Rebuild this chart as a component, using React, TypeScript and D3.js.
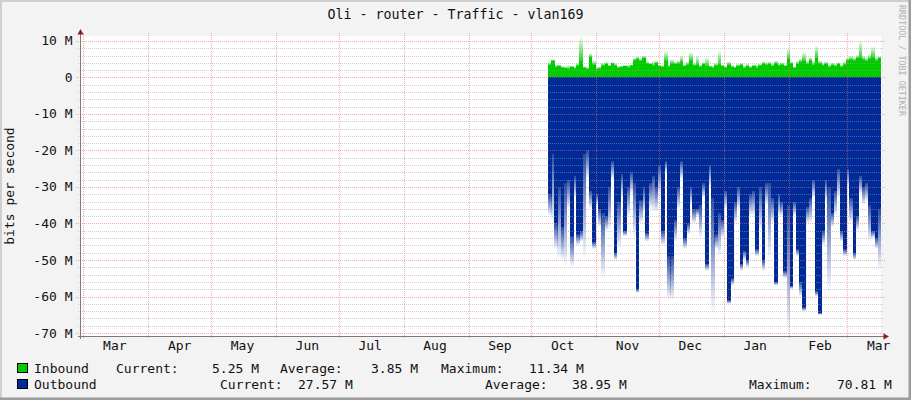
import React from 'react';
import * as d3 from 'd3';

const W = 911;
const H = 400;

const titleText = 'Oli - router - Traffic - vlan169';
const yAxisTitle = 'bits per second';
const watermark = 'RRDTOOL / TOBI OETIKER';
const monthLabels = ['Mar', 'Apr', 'May', 'Jun', 'Jul', 'Aug', 'Sep', 'Oct', 'Nov', 'Dec', 'Jan', 'Feb', 'Mar'];
const yMajorTicks = [10, 0, -10, -20, -30, -40, -50, -60, -70];
const yTickLabels = ['10 M', '0', '-10 M', '-20 M', '-30 M', '-40 M', '-50 M', '-60 M', '-70 M'];

// Inbound (M bits/s), one value per 36h step starting 9 Oct
const inAvg = [
  3.4, 4.5, 2.8, 3.0, 2.6, 2.5, 2.3, 2.8, 2.4, 3.2,
  4.5, 2.5, 2.2, 5.5, 3.5, 2.2, 2.4, 3.2, 3.6, 3.0,
  3.8, 3.2, 2.6, 2.8, 3.0, 2.7, 3.2, 4.6, 5.0, 4.4,
  5.2, 3.8, 3.6, 3.2, 4.0, 3.0, 2.8, 4.5, 2.9, 3.8,
  3.6, 3.8, 4.2, 3.0, 3.4, 4.6, 3.2, 3.4, 2.9, 3.6,
  3.0, 2.8, 2.6, 3.2, 3.4, 3.0, 2.6, 3.4, 2.8, 2.6,
  3.0, 3.4, 2.6, 3.0, 2.6, 3.0, 2.6, 3.2, 3.8, 3.4,
  3.6, 3.0, 3.8, 3.2, 3.4, 3.0, 5.0, 3.8, 2.6, 3.6,
  4.2, 4.4, 3.6, 4.6, 3.4, 5.4, 3.8, 3.2, 3.6, 2.8,
  3.4, 3.0, 3.6, 2.8, 3.4, 4.6, 4.8, 4.6, 5.2, 5.4,
  4.8, 4.4, 5.0, 5.4, 4.6, 5.25,
];
const inMax = [
  4.2, 5.0, 3.5, 3.6, 3.2, 3.0, 3.4, 3.3, 3.0, 4.0,
  11.34, 3.2, 3.0, 6.6, 4.6, 2.8, 3.0, 4.0, 4.3, 3.6,
  4.2, 4.0, 3.2, 3.2, 3.4, 3.6, 3.6, 5.5, 5.8, 5.4,
  6.0, 4.4, 4.0, 4.6, 4.5, 3.5, 3.4, 7.3, 3.5, 5.0,
  4.3, 4.6, 6.0, 3.6, 4.4, 7.0, 4.0, 6.0, 3.5, 4.2,
  5.6, 3.4, 3.2, 4.0, 7.5, 3.6, 3.2, 4.4, 3.4, 3.0,
  3.8, 4.0, 3.3, 3.8, 3.2, 3.6, 3.4, 3.8, 4.4, 4.2,
  4.4, 4.0, 4.6, 3.8, 4.2, 3.6, 8.0, 4.4, 3.0, 4.6,
  5.2, 7.0, 4.6, 5.6, 4.6, 8.8, 4.6, 4.0, 4.4, 3.6,
  4.0, 3.8, 4.2, 3.6, 4.4, 5.4, 6.0, 5.6, 6.2, 10.2,
  6.0, 5.6, 6.4, 8.6, 5.6, 5.8,
];
// Outbound magnitudes (M bits/s), drawn below zero
const outAvg = [
  32, 21, 40, 30, 41, 29, 28, 43.5, 27, 43,
  42, 21, 20, 31, 45, 32, 36, 37, 38, 30,
  23, 48, 34, 26.5, 42, 30, 26, 29, 58, 33.6,
  30, 42.5, 29, 27, 30, 24, 42, 23, 49, 49,
  39, 30, 23, 44, 40, 30, 36, 36, 35, 29,
  51, 24, 33, 43, 37, 39, 31, 61, 55, 34,
  30, 51, 47.5, 50, 32, 31, 47, 30, 50, 29,
  29, 33, 56, 32, 34, 53, 35, 57, 34, 47,
  56, 63, 35.5, 33, 28, 58.5, 64.5, 42, 28, 30,
  37, 31, 25, 42, 47, 25, 33, 48, 38, 27,
  30, 29, 35, 42, 44, 36,
];
const outMax = [
  38, 40, 47, 50, 50, 52, 36, 52, 33, 46,
  45, 50, 28, 36, 47, 35, 41, 55, 42, 42,
  28, 50, 47, 33, 43.5, 38, 32, 44, 59, 40,
  37, 45, 36, 37, 37, 32, 46, 26, 61, 61,
  45, 36, 28, 47, 43, 35, 40, 38, 44, 33,
  53, 30, 65, 47, 49, 44, 36, 62, 57, 40,
  36, 53, 50, 52, 38, 38, 49, 42, 53, 35,
  50, 40, 57, 38, 38, 55, 70.81, 58, 38, 49,
  60, 64, 40, 40, 33, 60, 65, 46, 34, 59,
  41, 38, 33, 45, 49, 30, 40, 50, 42, 32,
  35, 34, 45, 44, 47, 53,
];

const legendIn = [
  { t: 'Inbound', x: 34 },
  { t: 'Current:', x: 116 },
  { t: '5.25 M', x: 212 },
  { t: 'Average:', x: 280 },
  { t: '3.85 M', x: 371 },
  { t: 'Maximum:', x: 441 },
  { t: '11.34 M', x: 529 },
];
const legendOut = [
  { t: 'Outbound', x: 34 },
  { t: 'Current:', x: 220 },
  { t: '27.57 M', x: 298 },
  { t: 'Average:', x: 485 },
  { t: '38.95 M', x: 572 },
  { t: 'Maximum:', x: 749 },
  { t: '70.81 M', x: 837 },
];

const GREEN = '#00cc00';
const BLUE = '#002a97';
const FONT = '"DejaVu Sans Mono", monospace';

export default function App() {
  const x = d3
    .scaleUtc()
    .domain([new Date(Date.UTC(2013, 1, 27, 20, 10)), new Date(Date.UTC(2014, 2, 17, 2, 24))])
    .range([81, 881]);
  const y = d3.scaleLinear().domain([-70.81, 11.34]).range([336, 36]);

  const t0 = Date.UTC(2013, 9, 9);
  const step = 36 * 3600 * 1000;
  const cols = inAvg.map((_, i) => {
    const x0 = x(new Date(t0 + i * step));
    const x1 = x(new Date(t0 + (i + 1) * step));
    return { x0, w: x1 - x0 + 0.4 };
  });

  const monthStarts = d3.utcMonths(new Date(Date.UTC(2013, 2, 1)), new Date(Date.UTC(2014, 2, 2)));
  const minor = d3.range(-70, 11, 2).filter((v) => v % 10 !== 0);

  return (
    <svg
      width={W}
      height={H}
      style={{ position: 'absolute', left: 0, top: 0, display: 'block' }}
      fontFamily={FONT}
    >
      <defs>
        <linearGradient id="fadeBlue" x1="0" y1="0" x2="0" y2="1">
          <stop offset="0" stopColor={BLUE} stopOpacity={0.85} />
          <stop offset="1" stopColor={BLUE} stopOpacity={0} />
        </linearGradient>
        <linearGradient id="fadeGreen" x1="0" y1="1" x2="0" y2="0">
          <stop offset="0" stopColor={GREEN} stopOpacity={0.85} />
          <stop offset="1" stopColor={GREEN} stopOpacity={0} />
        </linearGradient>
      </defs>
      <rect x={0} y={0} width={W} height={H} fill="#f3f3f3" />
      <rect x={0} y={0} width={W} height={2} fill="#cfcfcf" />
      <rect x={0} y={0} width={2} height={H} fill="#cfcfcf" />
      <rect x={908.5} y={0} width={2.5} height={H} fill="#9c9c9c" />
      <rect x={0} y={397.5} width={W} height={2.5} fill="#9c9c9c" />

      <text x={W / 2} y={19} textAnchor="middle" fontSize={13.3} fill="#111">
        {titleText}
      </text>

      <rect x={81} y={36} width={800} height={300} fill="#ffffff" />

      {/* data */}
      <g shapeRendering="crispEdges">
        {cols.map((c, i) => (
          <g key={i}>
            <rect x={c.x0} y={y(inAvg[i])} width={c.w} height={y(0) - y(inAvg[i])} fill={GREEN} />
            <rect
              x={c.x0}
              y={y(inMax[i])}
              width={c.w}
              height={Math.max(0, y(inAvg[i]) - y(inMax[i]))}
              fill="url(#fadeGreen)"
            />
            <rect x={c.x0} y={y(0)} width={c.w} height={y(-outAvg[i]) - y(0)} fill={BLUE} />
            <rect
              x={c.x0}
              y={y(-outAvg[i])}
              width={c.w}
              height={Math.max(0, y(-outMax[i]) - y(-outAvg[i]))}
              fill="url(#fadeBlue)"
            />
          </g>
        ))}
      </g>

      {/* grid */}
      <g fill="none" strokeWidth={1}>
        {minor.map((v) => (
          <line
            key={'mi' + v}
            x1={78}
            x2={884}
            y1={Math.round(y(v)) + 0.5}
            y2={Math.round(y(v)) + 0.5}
            stroke="rgba(160,160,160,0.5)"
            strokeDasharray="1,1"
          />
        ))}
        {yMajorTicks.map((v) => (
          <line
            key={'ma' + v}
            x1={76}
            x2={885}
            y1={Math.round(y(v)) + 0.5}
            y2={Math.round(y(v)) + 0.5}
            stroke="rgba(240,100,100,0.55)"
            strokeDasharray="1,1"
          />
        ))}
        {monthStarts.map((d, i) => (
          <line
            key={'vx' + i}
            x1={Math.round(x(d)) + 0.5}
            x2={Math.round(x(d)) + 0.5}
            y1={33}
            y2={339}
            stroke="rgba(240,100,100,0.55)"
            strokeDasharray="1,1"
          />
        ))}
      </g>

      {/* axes */}
      <line x1={78} x2={884} y1={336.5} y2={336.5} stroke="#7a7a7a" />
      <line x1={80.5} x2={80.5} y1={339} y2={33} stroke="#7a7a7a" />
      <path d="M77.5,34.5 L83.5,34.5 L80.5,29 Z" fill="#8c1c1c" />
      <path d="M883.5,333.5 L883.5,339.5 L889,336.5 Z" fill="#8c1c1c" />

      {/* y labels */}
      {yMajorTicks.map((v, i) => (
        <text key={'yl' + v} x={72.5} y={y(v) + 4.5} textAnchor="end" fontSize={13} fill="#111">
          {yTickLabels[i]}
        </text>
      ))}

      {/* x labels */}
      {monthStarts.map((d, i) => (
        <text
          key={'xl' + i}
          x={x(new Date(d.getTime() + 15 * 86400000))}
          y={350}
          textAnchor="middle"
          fontSize={13}
          fill="#111"
        >
          {monthLabels[i]}
        </text>
      ))}

      <text transform="translate(14,186) rotate(-90)" textAnchor="middle" fontSize={13} fill="#111">
        {yAxisTitle}
      </text>

      <text transform="translate(899,5) rotate(90)" fontSize={8.4} fill="#b0b0b0">
        {watermark}
      </text>

      {/* legend */}
      <rect x={17.5} y={363.5} width={10} height={9} fill={GREEN} stroke="#000" />
      <rect x={17.5} y={379.5} width={10} height={9} fill={BLUE} stroke="#000" />
      {legendIn.map((l, i) => (
        <text key={'li' + i} x={l.x} y={373} fontSize={13} fill="#111">
          {l.t}
        </text>
      ))}
      {legendOut.map((l, i) => (
        <text key={'lo' + i} x={l.x} y={389} fontSize={13} fill="#111">
          {l.t}
        </text>
      ))}
    </svg>
  );
}
